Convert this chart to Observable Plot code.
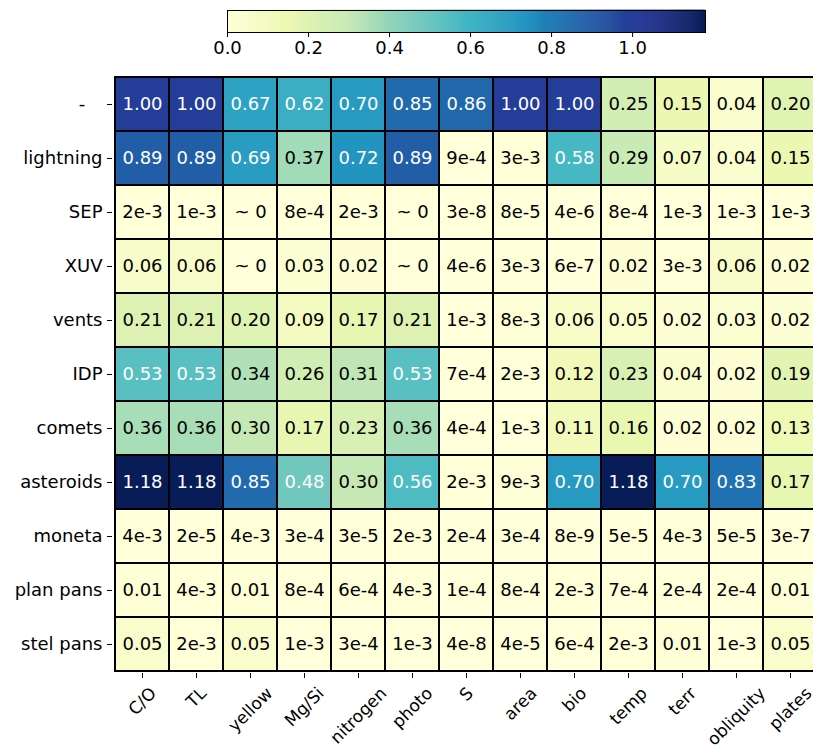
<!DOCTYPE html>
<html>
<head>
<meta charset="utf-8">
<script src="https://cdn.jsdelivr.net/npm/d3@7"></script>
<script src="https://cdn.jsdelivr.net/npm/@observablehq/plot@0.6"></script>
<style>
  html, body { margin: 0; padding: 0; background: white; overflow: hidden; }
  #chart svg { display: block; overflow: hidden; }
</style>
</head>
<body>
<div id="chart"></div>
<script>
const cols = ["C/O","TL","yellow","Mg/Si","nitrogen","photo","S","area","bio","temp","terr","obliquity","plates"];
const rows = ["-\u00a0\u00a0\u00a0","lightning","SEP","XUV","vents","IDP","comets","asteroids","moneta","plan pans","stel pans"];

const rowDash      = [1.00,1.00,0.67,0.62,0.70,0.85,0.86,1.00,1.00,0.25,0.15,0.04,0.20];
const rowLightning = [0.89,0.89,0.69,0.37,0.72,0.89,9e-4,3e-3,0.58,0.29,0.07,0.04,0.15];
const rowSEP       = [2e-3,1e-3,0,8e-4,2e-3,0,3e-8,8e-5,4e-6,8e-4,1e-3,1e-3,1e-3];
const rowXUV       = [0.06,0.06,0,0.03,0.02,0,4e-6,3e-3,6e-7,0.02,3e-3,0.06,0.02];
const rowVents     = [0.21,0.21,0.20,0.09,0.17,0.21,1e-3,8e-3,0.06,0.05,0.02,0.03,0.02];
const rowIDP       = [0.53,0.53,0.34,0.26,0.31,0.53,7e-4,2e-3,0.12,0.23,0.04,0.02,0.19];
const rowComets    = [0.36,0.36,0.30,0.17,0.23,0.36,4e-4,1e-3,0.11,0.16,0.02,0.02,0.13];
const rowAsteroids = [1.18,1.18,0.85,0.48,0.30,0.56,2e-3,9e-3,0.70,1.18,0.70,0.83,0.17];
const rowMoneta    = [4e-3,2e-5,4e-3,3e-4,3e-5,2e-3,2e-4,3e-4,8e-9,5e-5,4e-3,5e-5,3e-7];
const rowPlanPans  = [0.01,4e-3,0.01,8e-4,6e-4,4e-3,1e-4,8e-4,2e-3,7e-4,2e-4,2e-4,0.01];
const rowStelPans  = [0.05,2e-3,0.05,1e-3,3e-4,1e-3,4e-8,4e-5,6e-4,2e-3,0.01,1e-3,0.05];

const colorbarTicks = [0.0,0.2,0.4,0.6,0.8,1.0];
const vmax = 1.18;

const rowValues = [rowDash,rowLightning,rowSEP,rowXUV,rowVents,rowIDP,rowComets,rowAsteroids,rowMoneta,rowPlanPans,rowStelPans];

function fmt(v) {
  if (v === 0) return "~ 0";
  if (v >= 0.01) return v.toFixed(2);
  return v.toExponential(0);
}

const cells = rows.flatMap((r, i) => rowValues[i].map((v, j) => ({row: r, col: cols[j], value: v, label: fmt(v)})));

const FS = 18;
const FSX = 17;
const FONT = "DejaVu Sans";
const ylgnbu9 = ["#ffffd9","#edf8b1","#c7e9b4","#7fcdbb","#41b6c4","#1d91c0","#225ea8","#253494","#081d58"];
const colorOpts = {type: "linear", domain: d3.range(9).map(i => i * vmax / 8), range: ylgnbu9, interpolate: "rgb"};

// colorbar
const step = 0.0025;
const ramp = d3.range(0, vmax, step);
const cbar = Plot.plot({
  width: 813, height: 60,
  marginLeft: 227, marginRight: 108, marginTop: 10, marginBottom: 28,
  style: {fontFamily: FONT, fontSize: FS + "px", background: "white", overflow: "visible"},
  x: {domain: [0, vmax]},
  y: {domain: [0, 1], axis: null},
  color: colorOpts,
  marks: [
    Plot.rect(ramp, {x1: d => d, x2: d => Math.min(d + step, vmax), y1: 0, y2: 1, fill: d => d + step / 2, stroke: d => d + step / 2, strokeWidth: 0.6}),
    Plot.frame({stroke: "black", strokeWidth: 1}),
    Plot.axisX({ticks: colorbarTicks, tickFormat: d => d.toFixed(1), tickSize: 5, tickPadding: 4, fontSize: FS, label: null, stroke: "black"})
  ]
});

// measure label widths for centered rotated labels
const ctx = document.createElement("canvas").getContext("2d");
ctx.font = `${FSX}px "${FONT}"`;
const lineH = FSX * 1.17;
const tickLen = 5, tickPad = 5;
const labelMarks = cols.map(c => {
  const w = ctx.measureText(c).width;
  const half = (w + lineH) / (2 * Math.SQRT2);
  return Plot.text([c], {x: d => d, frameAnchor: "bottom", dy: tickLen + tickPad + half, rotate: -45, textAnchor: "middle", lineAnchor: "middle", fontSize: FSX, fill: "black"});
});

const heat = Plot.plot({
  width: 813, height: 689,
  marginLeft: 112, marginRight: 0, marginTop: 15, marginBottom: 76,
  style: {fontFamily: FONT, fontSize: FS + "px", background: "white"},
  x: {domain: cols, range: [112, 820], padding: 0},
  y: {domain: rows, padding: 0},
  color: colorOpts,
  marks: [
    Plot.cell(cells, {x: "col", y: "row", fill: "value", stroke: "black", strokeWidth: 2, inset: 0}),
    Plot.text(cells, {filter: d => d.value > 0.42, x: "col", y: "row", text: "label", fill: "white", fontSize: FS}),
    Plot.text(cells, {filter: d => d.value <= 0.42, x: "col", y: "row", text: "label", fill: "black", fontSize: FS}),
    Plot.axisY({tickSize: 5, tickPadding: 5, fontSize: FS, label: null, stroke: "black", fill: "black"}),
    Plot.axisX({tickSize: 5, tickFormat: () => "", label: null, stroke: "black"}),
    ...labelMarks
  ]
});

const root = document.getElementById("chart");
root.appendChild(cbar);
root.appendChild(heat);
</script>
</body>
</html>
